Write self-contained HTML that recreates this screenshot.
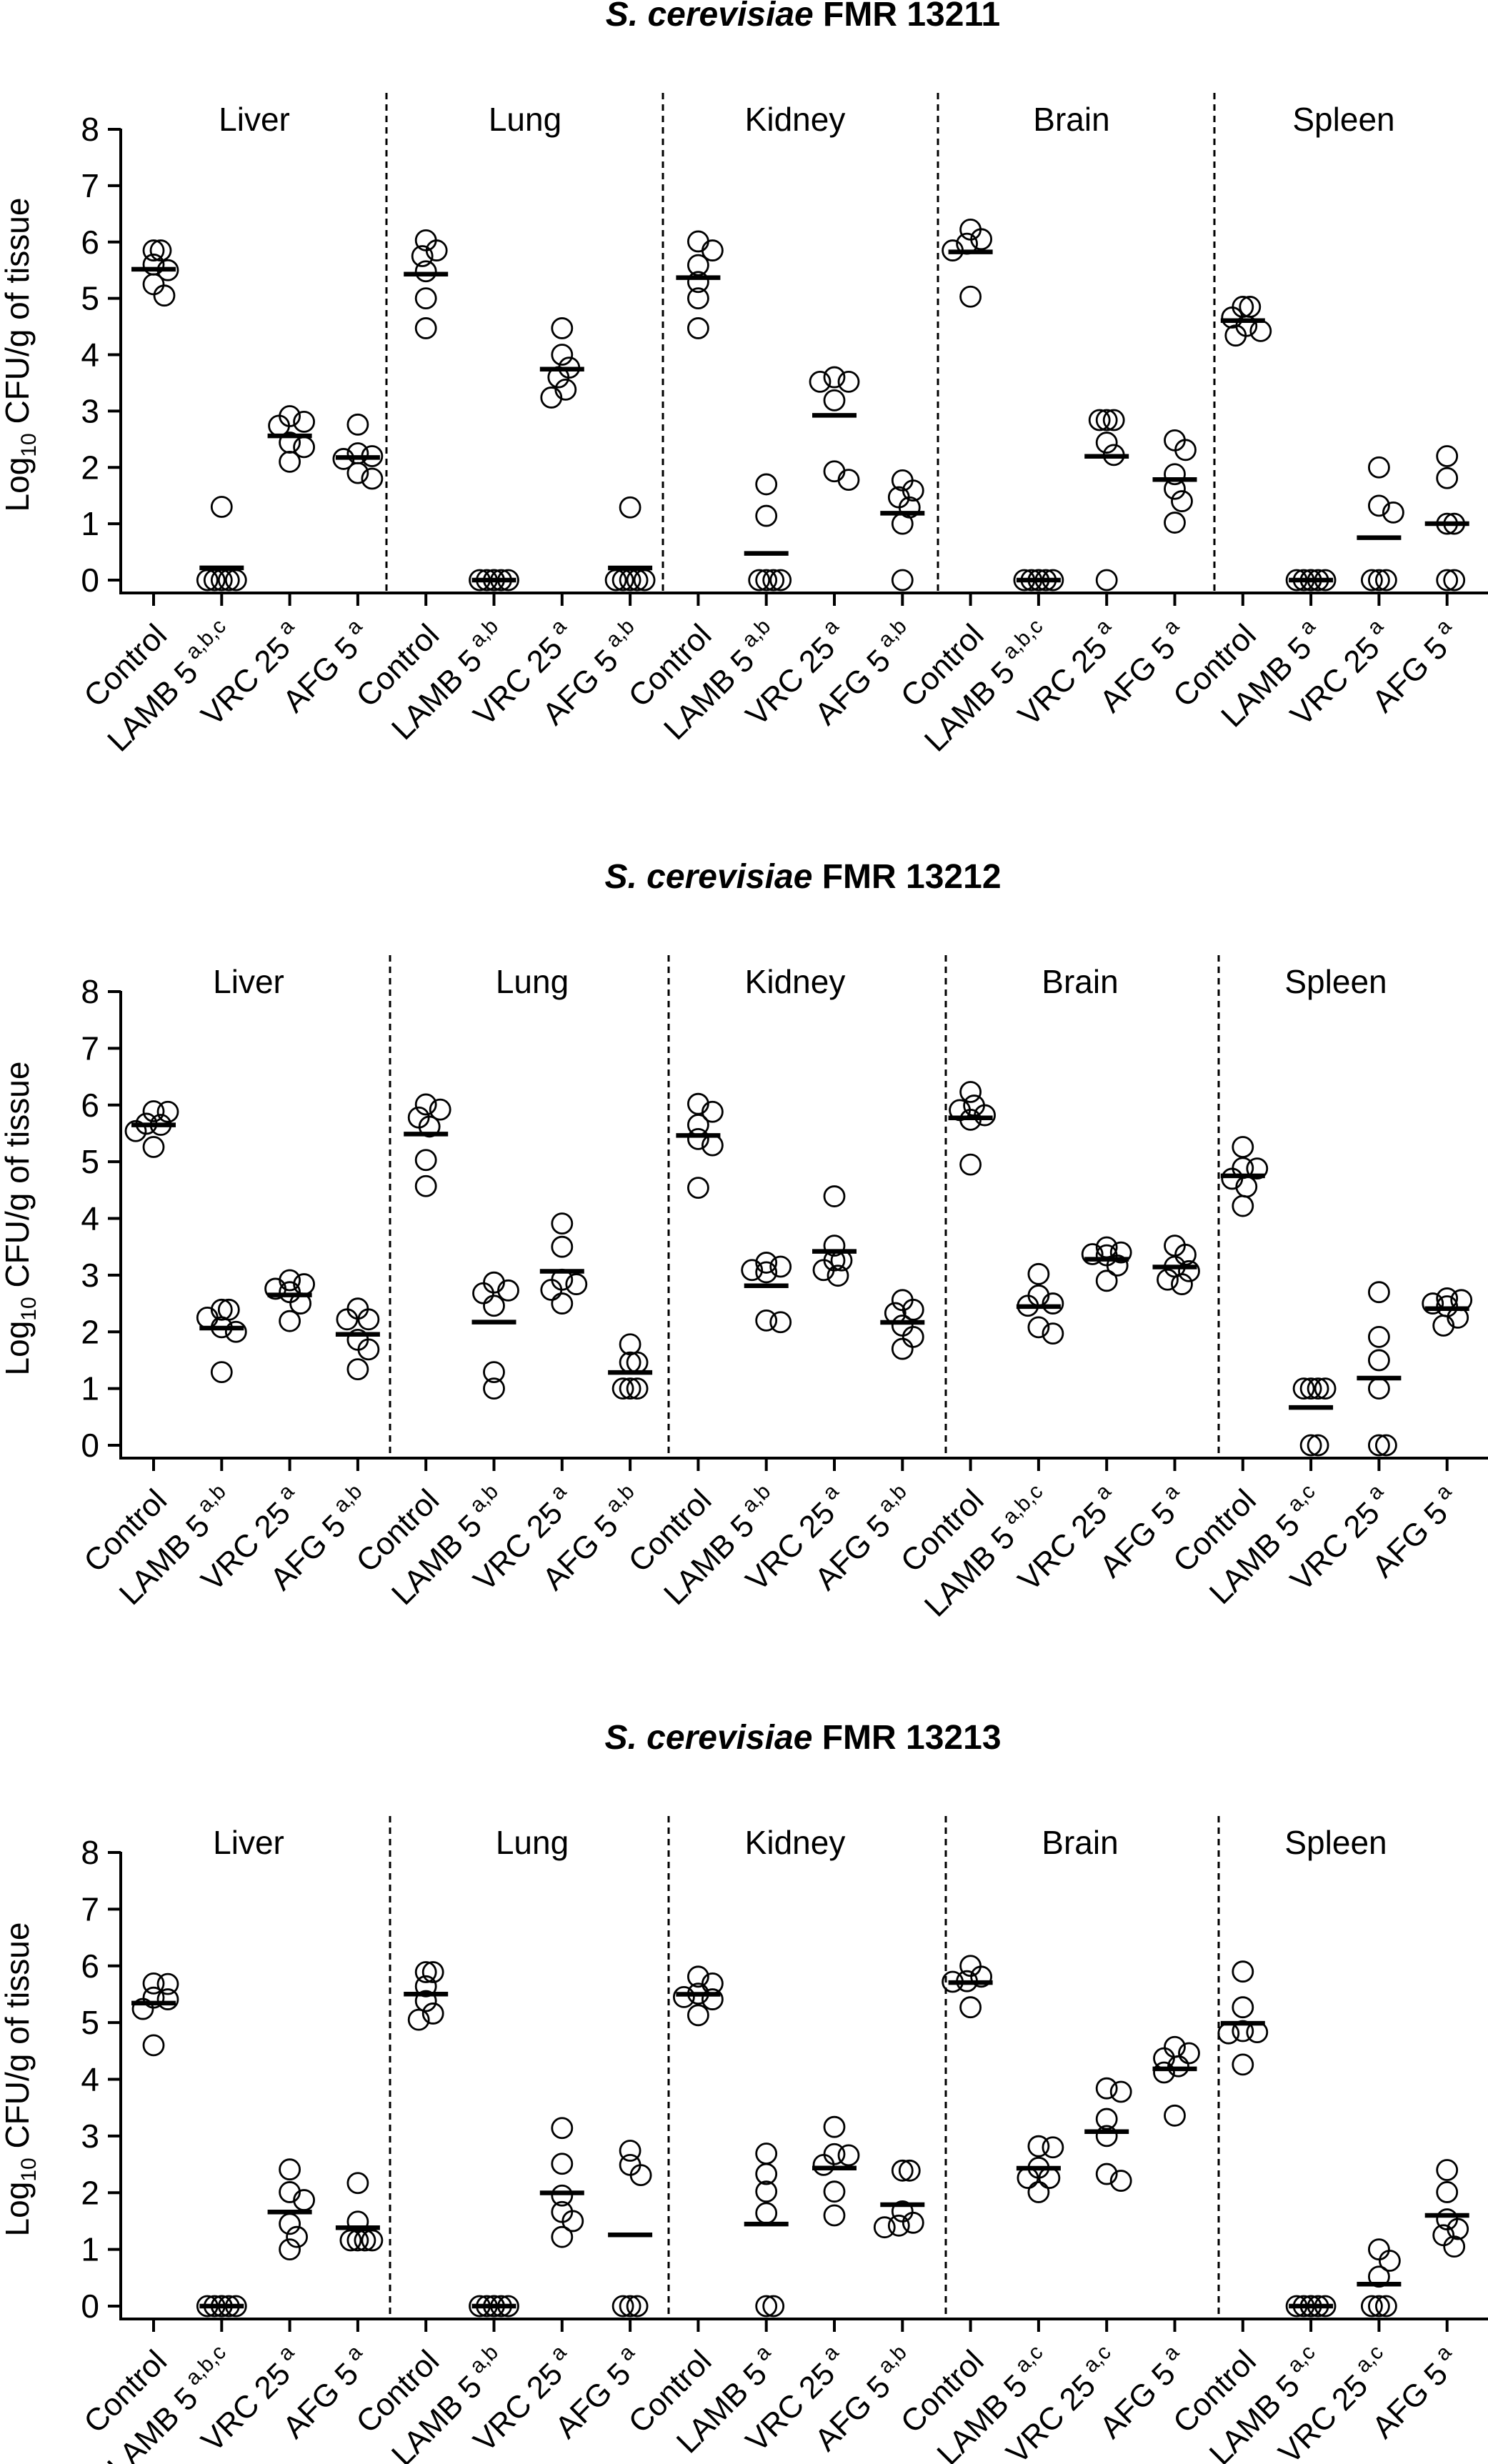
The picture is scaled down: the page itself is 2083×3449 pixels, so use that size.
<!DOCTYPE html>
<html><head><meta charset="utf-8">
<style>
html,body{margin:0;padding:0;background:#fff;}
svg{display:block;font-family:"Liberation Sans",Arial,sans-serif;}
</style></head>
<body>
<svg id="chart" xmlns="http://www.w3.org/2000/svg" width="2083" height="3449" viewBox="0 0 2083 3449"></svg>
<script>
// ---------- data ----------
const panelStrains = ["FMR 13211", "FMR 13212", "FMR 13213"];
const organs = ["Liver", "Lung", "Kidney", "Brain", "Spleen"];
const treatments = ["Control", "LAMB 5", "VRC 25", "AFG 5"];
const yTicks = [0,1,2,3,4,5,6,7,8];
const sup1 = [["","a,b,c","a","a"],["","a,b","a","a,b"],["","a,b","a","a,b"],["","a,b,c","a","a"],["","a","a","a"]];
const sup2 = [["","a,b","a","a,b"],["","a,b","a","a,b"],["","a,b","a","a,b"],["","a,b,c","a","a"],["","a,c","a","a"]];
const sup3 = [["","a,b,c","a","a"],["","a,b","a","a"],["","a","a","a,b"],["","a,c","a,c","a"],["","a,c","a,c","a"]];
const vals1 = [
 [[5.85,5.85,5.6,5.5,5.25,5.05],[1.3,0,0,0,0,0],[2.91,2.81,2.74,2.44,2.36,2.1],[2.76,2.25,2.2,2.15,1.9,1.8]],
 [[6.03,5.85,5.75,5.48,5.0,4.47],[0,0,0,0,0,0],[4.47,4.0,3.77,3.6,3.38,3.24],[1.29,0,0,0,0,0]],
 [[6.01,5.85,5.59,5.29,5.0,4.47],[1.7,1.14,0,0,0,0],[3.6,3.52,3.52,3.19,1.93,1.78],[1.77,1.59,1.47,1.29,1.0,0]],
 [[6.22,6.05,5.97,5.85,5.03],[0,0,0,0,0,0],[2.84,2.84,2.84,2.44,2.22,0],[2.48,2.31,1.88,1.62,1.4,1.02]],
 [[4.85,4.85,4.66,4.51,4.42,4.34],[0,0,0,0,0,0],[2.0,1.32,1.2,0,0,0],[2.2,1.81,1.0,1.0,0,0]]
];
const vals2 = [
 [[5.89,5.88,5.67,5.65,5.54,5.26],[2.39,2.39,2.25,2.08,2.0,1.29],[2.91,2.84,2.76,2.7,2.5,2.19],[2.41,2.22,2.22,1.86,1.69,1.34]],
 [[6.01,5.92,5.78,5.62,5.03,4.57],[2.87,2.73,2.68,2.46,1.29,1.0],[3.91,3.5,2.92,2.84,2.74,2.5],[1.78,1.46,1.46,1.0,1.0,1.0]],
 [[6.02,5.88,5.65,5.4,5.29,4.54],[3.22,3.15,3.09,3.05,2.2,2.17],[4.39,3.52,3.26,3.26,3.09,2.99],[2.56,2.39,2.33,2.11,1.91,1.7]],
 [[6.23,5.99,5.91,5.82,5.74,4.95],[3.02,2.64,2.5,2.46,2.08,1.97],[3.49,3.4,3.37,3.35,3.17,2.9],[3.52,3.36,3.15,3.07,2.92,2.84]],
 [[5.26,4.89,4.88,4.7,4.56,4.22],[1.0,1.0,1.0,1.0,0,0],[2.7,1.91,1.5,1.0,0,0],[2.59,2.56,2.5,2.45,2.25,2.11]]
];
const vals3 = [
 [[5.69,5.68,5.44,5.41,5.24,4.6],[0,0,0,0,0,0],[2.41,2.01,1.87,1.45,1.22,1.0],[2.17,1.49,1.16,1.16,1.16,1.16]],
 [[5.89,5.89,5.64,5.38,5.16,5.05],[0,0,0,0,0,0],[3.14,2.51,1.95,1.66,1.5,1.22],[2.74,2.49,2.31,0,0,0]],
 [[5.81,5.69,5.51,5.45,5.41,5.13],[2.69,2.33,2.02,1.64,0,0],[3.16,2.68,2.66,2.49,2.02,1.6],[2.39,2.39,1.67,1.47,1.42,1.39]],
 [[6.0,5.81,5.73,5.72,5.27],[2.82,2.8,2.44,2.26,2.26,2.01],[3.84,3.78,3.3,3.0,2.33,2.21],[4.57,4.46,4.37,4.23,4.12,3.36]],
 [[5.9,5.27,4.85,4.83,4.81,4.26],[0,0,0,0,0,0],[1.0,0.8,0.52,0,0,0],[2.4,2.01,1.53,1.36,1.25,1.05]]
];
const panelVals = [vals1, vals2, vals3];
const panelSups = [sup1, sup2, sup3];

// ---------- layout ----------
const NS = "http://www.w3.org/2000/svg";
const svg = document.getElementById("chart");
const FONT = 46;
const XFONT = 44;
const AXIS_X = 169;
const PANEL_Y8 = [181, 1388, 2593];
const PANEL_Y0 = [812, 2023, 3228];
const SEPS = [[541,928,1313,1700],[546,936,1324,1706],[546,936,1324,1706]];
const ORG_X = [[356,735,1113,1500,1881],[348,745,1113,1512,1870],[348,745,1113,1512,1870]];
const R = 14;

function el(tag, attrs, parent){
  const e = document.createElementNS(NS, tag);
  for (const k in attrs) e.setAttribute(k, attrs[k]);
  (parent||svg).appendChild(e);
  return e;
}
function catX(k){ return 215 + 95.3*k; }

panelStrains.forEach((strain, p) => {
  const y8 = PANEL_Y8[p], y0 = PANEL_Y0[p];
  const yScale = v => y0 + (y8 - y0) * v / 8;
  const axisY = y0 + 18;
  const g = el("g", {});
  
  

  const t = el("text", {x: 1124, y: y8 - 145, "text-anchor":"middle", "font-size": 48, "font-weight":"bold"}, g);
  
  
  const ti = el("tspan", {"font-style":"italic"}, t); ti.textContent = "S. cerevisiae ";
  const tn = el("tspan", {}, t); tn.textContent = strain;

  const yt = el("text", {transform:`translate(40,${(y8+y0)/2}) rotate(-90)`, "text-anchor":"middle", "font-size": FONT}, g);
  
  
  const a1 = el("tspan", {}, yt); a1.textContent = "Log";
  const a2 = el("tspan", {"font-size": 30, dy: 10}, yt); a2.textContent = "10";
  const a3 = el("tspan", {dy: -10}, yt); a3.textContent = " CFU/g of tissue";

  const ya = el("line", {x1:AXIS_X, y1:y8-1, x2:AXIS_X, y2:axisY+2, stroke:"#000", "stroke-width":4}, g);
  
  
  const xa = el("line", {x1:AXIS_X-2, y1:axisY, x2:2083, y2:axisY, stroke:"#000", "stroke-width":4}, g);
  
  

  yTicks.forEach(v => {
    const yy = yScale(v);
    const tk = el("line", {x1:AXIS_X-18, y1:yy, x2:AXIS_X, y2:yy, stroke:"#000", "stroke-width":4}, g);
    
    
    const tl = el("text", {x:139, y:yy+16, "text-anchor":"end", "font-size":FONT}, g);
    
    
    tl.textContent = v;
  });

  SEPS[p].forEach(sx => {
    const s = el("line", {x1:sx, y1:y8-51, x2:sx, y2:axisY, stroke:"#000", "stroke-width":3, "stroke-dasharray":"9 7"}, g);
    
    
  });

  organs.forEach((org, o) => {
    const ol = el("text", {x: ORG_X[p][o], y: y8 + 2, "text-anchor":"middle", "font-size":FONT}, g);
    
    
    ol.textContent = org;

    treatments.forEach((tr, i) => {
      const k = o*4 + i;
      const cx = catX(k);
      const tk = el("line", {x1:cx, y1:axisY, x2:cx, y2:axisY+18, stroke:"#000", "stroke-width":4}, g);
      
      
      const ax = cx + 21, ay = axisY + 62;
      const lb = el("text", {transform:`translate(${ax},${ay}) rotate(-45)`, x:0, y:0, "text-anchor":"end", "font-size":XFONT}, g);
      
      
      const sup = panelSups[p][o][i];
      const m = el("tspan", {}, lb); m.textContent = tr;
      if (sup) {
        const sp = el("tspan", {"font-size": 30, dy: -19}, lb); sp.textContent = " " + sup;
      }

      const pts = panelVals[p][o][i].slice().sort((a,b)=>b-a);
      const placed = [];
      pts.forEach(v => {
        const py = yScale(v);
        let best = 0, bestScore = Infinity;
        for (let s = 0; s < 11; s++) {
          const off = (s === 0 ? 0 : (s % 2 ? 1 : -1) * Math.ceil(s/2) * 5);
          let score = 0;
          placed.forEach(q => {
            const dx = Math.abs(q[0]-off), dy = Math.abs(q[1]-py);
            if (dy < 0.5) { if (dx < 9) score += 100; }
            else if (Math.hypot(dx, dy) < 20) score += 20 - Math.hypot(dx, dy);
          });
          score += Math.abs(off) * 0.01;
          if (score < bestScore - 1e-9) { bestScore = score; best = off; }
          if (score < 0.5) break;
        }
        placed.push([best, py]);
        const c = el("circle", {cx: cx + best, cy: py, r: R, fill:"none", stroke:"#000", "stroke-width":2.8}, g);
        
        
      });
      const arr = panelVals[p][o][i];
      const mean = arr.reduce((a,b)=>a+b,0)/arr.length;
      const my = yScale(mean);
      const ml = el("line", {x1:cx-31, y1:my, x2:cx+31, y2:my, stroke:"#000", "stroke-width":6.5}, g);
      
      
    });
  });
});
</script>
</body></html>
